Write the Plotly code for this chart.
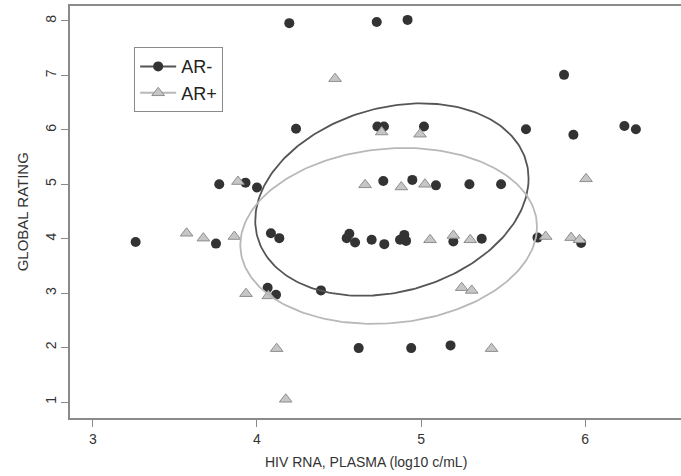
import numpy as np
import plotly.graph_objects as go

# AR- (dark circles)
ar_neg_x = [3.26, 3.75, 3.77, 3.93, 4.00, 4.085, 4.136, 4.065, 4.116, 4.39,
            4.62, 4.94, 5.18, 4.197, 4.73, 4.918, 4.238, 4.734, 4.774, 5.018,
            4.77, 4.947, 5.091, 5.295, 5.488, 5.64, 5.929, 6.24, 6.31, 5.872,
            4.547, 4.563, 4.598, 4.699, 4.776, 4.872, 4.898, 4.909,
            5.197, 5.37, 5.71, 5.976]
ar_neg_y = [3.94, 3.91, 5.00, 5.03, 4.94, 4.10, 4.01, 3.10, 2.97, 3.05,
            1.99, 1.99, 2.04, 7.96, 7.98, 8.02, 6.02, 6.06, 6.06, 6.06,
            5.06, 5.08, 4.98, 5.00, 5.00, 6.01, 5.91, 6.07, 6.01, 7.01,
            4.01, 4.09, 3.93, 3.98, 3.90, 3.98, 4.07, 3.96,
            3.95, 4.00, 4.02, 3.92]

# AR+ (gray triangles)
ar_pos_x = [3.571, 3.673, 3.862, 3.884, 3.933, 4.069, 4.12, 4.175, 4.476, 4.76,
            4.994, 4.659, 4.88, 5.024, 6.006, 5.055, 5.197, 5.30, 5.76, 5.915,
            5.966, 5.248, 5.309, 5.43]
ar_pos_y = [4.10, 4.01, 4.04, 5.05, 2.99, 2.95, 1.98, 1.05, 6.94, 5.96,
            5.92, 4.99, 4.95, 5.00, 5.10, 3.98, 4.06, 3.98, 4.04, 4.02,
            3.98, 3.10, 3.05, 1.98]

series_names = ["AR-", "AR+"]
x_ticks = [3, 4, 5, 6]
y_ticks = [1, 2, 3, 4, 5, 6, 7, 8]

DARK = "#333333"
TRI_FILL = "#c6c6c6"
TRI_LINE = "#8e8e8e"
ELL_DARK = "#555555"
ELL_LIGHT = "#b8b8b8"
FRAME = "#8a8a8a"
FONT = "Liberation Sans, Arial, Helvetica, sans-serif"


def data_ellipse(xs, ys, npts=240):
    # 50% data ellipse: radius sqrt(2 * F(0.5; 2, n-1))
    xs = np.asarray(xs, float)
    ys = np.asarray(ys, float)
    d = len(xs) - 1
    fq = d / 2.0 * (2.0 ** (2.0 / d) - 1.0)
    r = np.sqrt(2.0 * fq)
    cov = np.cov(xs, ys)
    L = np.linalg.cholesky(cov)
    t = np.linspace(0, 2 * np.pi, npts)
    pts = r * (L @ np.vstack([np.cos(t), np.sin(t)]))
    return xs.mean() + pts[0], ys.mean() + pts[1]


fig = go.Figure()

fig.add_trace(go.Scatter(x=ar_neg_x, y=ar_neg_y, mode="markers", showlegend=False,
                         marker=dict(symbol="circle", size=10, color=DARK,
                                     line=dict(width=0))))
fig.add_trace(go.Scatter(x=ar_pos_x, y=ar_pos_y, mode="markers", showlegend=False,
                         marker=dict(symbol="triangle-up", size=11, color=TRI_FILL,
                                     line=dict(width=1, color=TRI_LINE))))

ex, ey = data_ellipse(ar_neg_x, ar_neg_y)
fig.add_trace(go.Scatter(x=ex, y=ey, mode="lines", showlegend=False,
                         line=dict(color=ELL_DARK, width=1.8)))
ex, ey = data_ellipse(ar_pos_x, ar_pos_y)
fig.add_trace(go.Scatter(x=ex, y=ey, mode="lines", showlegend=False,
                         line=dict(color=ELL_LIGHT, width=1.8)))

# legend entries
fig.add_trace(go.Scatter(x=[None], y=[None], mode="lines+markers", name=series_names[0],
                         line=dict(color=ELL_DARK, width=2),
                         marker=dict(symbol="circle", size=10, color=DARK)))
fig.add_trace(go.Scatter(x=[None], y=[None], mode="lines+markers", name=series_names[1],
                         line=dict(color=ELL_LIGHT, width=2),
                         marker=dict(symbol="triangle-up", size=11, color=TRI_FILL,
                                     line=dict(width=1, color=TRI_LINE))))

fig.update_layout(
    width=681, height=476,
    margin=dict(l=70, r=0, t=6, b=58),
    paper_bgcolor="white", plot_bgcolor="white",
    font=dict(family=FONT, color="#333333"),
    showlegend=True,
    legend=dict(x=0.105, y=0.9, xanchor="left", yanchor="top",
                bordercolor=FRAME, borderwidth=1, bgcolor="white",
                font=dict(size=18, color="#222222"), tracegroupgap=0,
                itemwidth=36),
    xaxis=dict(range=[2.860, 6.585], tickvals=x_ticks, ticktext=[str(v) for v in x_ticks],
               showgrid=False, zeroline=False, showline=True, linecolor=FRAME,
               linewidth=1.5, mirror=True, ticks="outside", ticklen=7,
               tickcolor=FRAME, tickwidth=1.2, tickfont=dict(size=14, color="#333333")),
    yaxis=dict(range=[0.706, 8.275], tickvals=y_ticks, ticktext=[str(v) for v in y_ticks],
               showgrid=False, zeroline=False, showline=True, linecolor=FRAME,
               linewidth=1.5, mirror=False, ticks="outside", ticklen=7,
               tickcolor=FRAME, tickwidth=1.2, tickangle=-90,
               tickfont=dict(size=14, color="#333333")),
    annotations=[
        dict(text="HIV RNA, PLASMA (log10 c/mL)", xref="paper", yref="paper",
             x=0.484, y=-0.108, xanchor="center", yanchor="middle", showarrow=False,
             font=dict(size=14, color="#333333")),
        dict(text="GLOBAL RATING", xref="paper", yref="paper",
             x=-0.078, y=0.5, xanchor="center", yanchor="middle", showarrow=False,
             textangle=-90, font=dict(size=15, color="#333333")),
    ],
)

fig.write_html("out.html", config={"displayModeBar": False},
               post_script="document.body.style.margin='0';document.body.style.overflow='hidden';")
